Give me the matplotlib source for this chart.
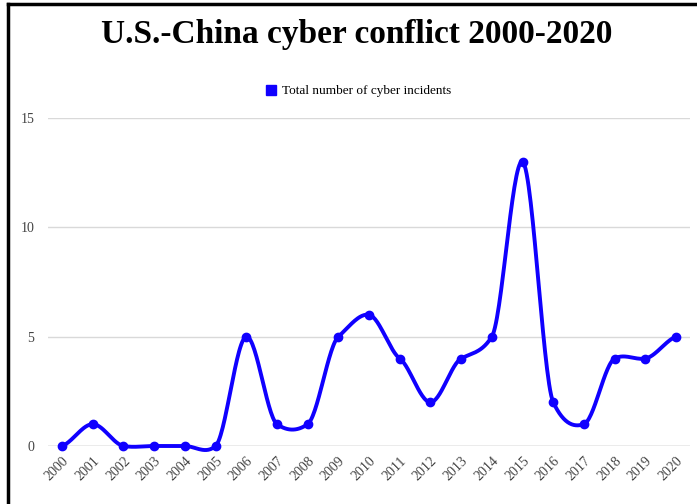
import numpy as np
import matplotlib
matplotlib.use('Agg')
import matplotlib.pyplot as plt
from matplotlib.lines import Line2D

years = [str(y) for y in range(2000, 2021)]
incidents = [0, 1, 0, 0, 0, 0, 5, 1, 1, 5, 6, 4, 2, 4, 5, 13, 2, 1, 4, 4, 5]
yticks = [0, 5, 10, 15]

plt.rcParams['font.family'] = ['Liberation Serif', 'DejaVu Serif']

# smooth curve through the points (cardinal spline, tension k)
def smooth(x, y, k=0.5, n=30):
    x = np.asarray(x, float)
    y = np.asarray(y, float)
    m = np.zeros_like(y)
    m[1:-1] = k * (y[2:] - y[:-2]) / (x[2:] - x[:-2])
    m[0] = k * (y[1] - y[0]) / (x[1] - x[0])
    m[-1] = k * (y[-1] - y[-2]) / (x[-1] - x[-2])
    xs, ys = [], []
    for i in range(len(x) - 1):
        h = x[i + 1] - x[i]
        t = np.linspace(0, 1, n, endpoint=False)
        h00 = 2*t**3 - 3*t**2 + 1
        h10 = t**3 - 2*t**2 + t
        h01 = -2*t**3 + 3*t**2
        h11 = t**3 - t**2
        xs.append(x[i] + t*h)
        ys.append(h00*y[i] + h10*h*m[i] + h01*y[i+1] + h11*h*m[i+1])
    xs.append([x[-1]])
    ys.append([y[-1]])
    return np.concatenate(xs), np.concatenate(ys)

fig = plt.figure(figsize=(6.97, 5.04), dpi=100)
ax = fig.add_axes([0.069, 0.1151, 0.921, 0.6508])

blue = '#1000ff'
idx = np.arange(len(years))
sx, sy = smooth(idx, incidents)
ax.plot(sx, sy, color=blue, lw=2.8, clip_on=False, zorder=3)
ax.plot(idx, incidents, 'o', color=blue, ms=6, clip_on=False, zorder=4)

ax.set_xlim(-0.456, 20.456)
ax.set_ylim(0, 15)
ax.set_yticks(yticks)
ax.set_xticks(idx)
ax.set_xticklabels(years, rotation=45, ha='right', rotation_mode='anchor')
ax.tick_params(length=0, labelsize=10, labelcolor='#444444')
ax.tick_params(axis='y', pad=10)
ax.tick_params(axis='x', pad=6)
for y in yticks[1:]:
    ax.axhline(y, color='#d9d9d9', lw=1, zorder=1)
ax.axhline(0, color='#999999', lw=1, zorder=1)
for s in ax.spines.values():
    s.set_visible(False)

fig.text(0.512, 0.932, 'U.S.-China cyber conflict 2000-2020', ha='center', va='center',
         fontsize=24, fontweight='bold')

handle = Line2D([], [], marker='s', color=blue, ls='none', ms=7)
fig.legend([handle], ['Total number of cyber incidents'], loc='center',
           bbox_to_anchor=(0.513, 0.819), frameon=False, fontsize=9.5,
           handletextpad=0.3, handlelength=1)

# frame lines on the left and top
fig.add_artist(Line2D([0.011, 0.011], [0, 0.992], color='black', lw=2.5, transform=fig.transFigure))
fig.add_artist(Line2D([0.011, 1], [0.992, 0.992], color='black', lw=2.5, transform=fig.transFigure))

fig.savefig('out.png', dpi=100)
